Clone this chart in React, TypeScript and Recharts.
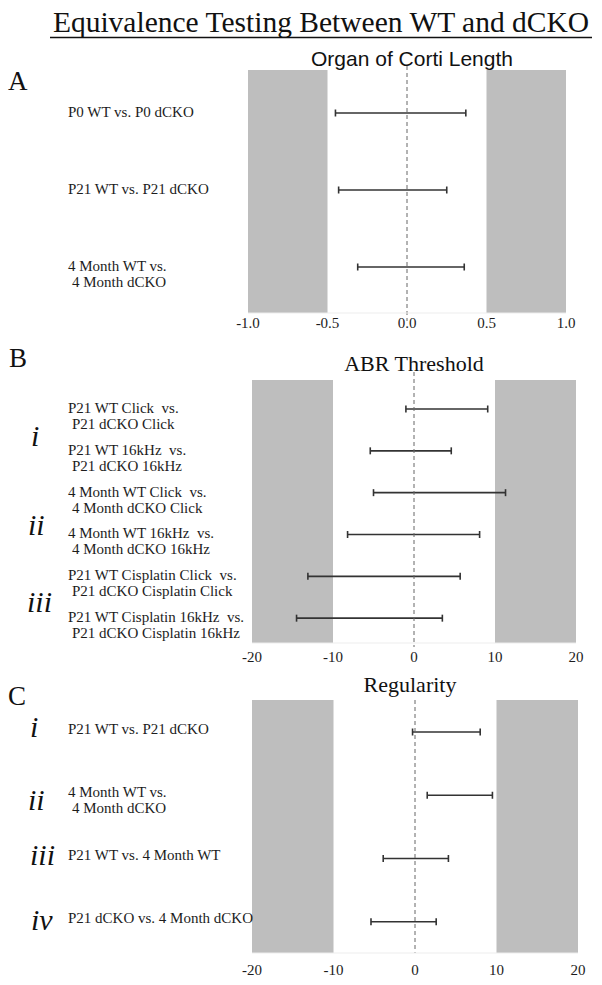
import React from 'react'
import { BarChart, Bar, XAxis, YAxis, ReferenceArea, ReferenceLine } from 'recharts'

const serif = '"Liberation Serif", "Times New Roman", serif'
const sans = '"Liberation Sans", Arial, sans-serif'

// A - organ of Corti length
const cortiLabels = ['P0 WT vs. P0 dCKO', 'P21 WT vs. P21 dCKO', '4 Month WT vs.\n4 Month dCKO']
const cortiLow = [-0.45, -0.43, -0.31]
const cortiHigh = [0.37, 0.25, 0.36]
const cortiTicks = [-1, -0.5, 0, 0.5, 1]

// B - ABR threshold
const abrLabels = [
  'P21 WT Click  vs.\nP21 dCKO Click',
  'P21 WT 16kHz  vs.\nP21 dCKO 16kHz',
  '4 Month WT Click  vs.\n4 Month dCKO Click',
  '4 Month WT 16kHz  vs.\n4 Month dCKO 16kHz',
  'P21 WT Cisplatin Click  vs.\nP21 dCKO Cisplatin Click',
  'P21 WT Cisplatin 16kHz  vs.\nP21 dCKO Cisplatin 16kHz',
]
const abrLow = [-1, -5.4, -5, -8.2, -13.1, -14.5]
const abrHigh = [9.1, 4.6, 11.3, 8.1, 5.7, 3.5]

// C - regularity
const regLabels = ['P21 WT vs. P21 dCKO', '4 Month WT vs.\n4 Month dCKO', 'P21 WT vs. 4 Month WT', 'P21 dCKO vs. 4 Month dCKO']
const regLow = [-0.3, 1.5, -3.9, -5.4]
const regHigh = [8.0, 9.5, 4.1, 2.6]

const wideTicks = [-20, -10, 0, 10, 20]

const GRAY = '#bebebe'
const INK = '#1c1c1c'

const Interval = (props: any) => {
  const { x, y, width, height } = props
  const cy = y + height / 2
  const x2 = x + width
  return (
    <g stroke="#333" strokeWidth={1.6}>
      <line x1={x} y1={cy} x2={x2} y2={cy} />
      <line x1={x} y1={cy - 3.5} x2={x} y2={cy + 3.5} />
      <line x1={x2} y1={cy - 3.5} x2={x2} y2={cy + 3.5} />
    </g>
  )
}

const RowLabel = (props: any) => {
  const { y, payload, shift } = props
  const lines = String(payload.value).split('\n')
  return (
    <text x={68} y={y + shift} fontFamily={serif} fontSize={15} fill={INK} style={{ whiteSpace: 'pre' }}>
      {lines.map((l, i) => (
        <tspan key={i} x={i === 0 ? 68 : 72} dy={i === 0 ? 0 : 16}>{l}</tspan>
      ))}
    </text>
  )
}

const AxisTick = (props: any) => {
  const { x, y, payload, gap, digits } = props
  return (
    <text x={x} y={y + gap} textAnchor="middle" fontFamily={serif} fontSize={15} fill={INK}>
      {digits ? Number(payload.value).toFixed(digits) : String(payload.value)}
    </text>
  )
}

type Pad = { top: number; bottom: number }

// the category padding shrinks reference marks, so stretch them back to the full plot
const bandShape = (pad: Pad) => (p: any) => (
  <rect x={p.x} y={p.y - pad.top} width={p.width} height={p.height + pad.top + pad.bottom} fill={GRAY} />
)
const zeroShape = (pad: Pad) => (p: any) => {
  const top = Math.min(p.y1, p.y2) - pad.top
  const bottom = Math.max(p.y1, p.y2) + pad.bottom
  return <line x1={p.x1} y1={top} x2={p.x2} y2={bottom} stroke="#666" strokeDasharray="4 3" />
}

type PanelProps = {
  top: number
  labels: string[]
  low: number[]
  high: number[]
  ticks: number[]
  band: [number, number]
  plotLeft: number
  plotRight: number
  plotHeight: number
  gap: number
  digits: number
  shift: number
  pad: Pad
}

const Panel = ({ top, labels, low, high, ticks, band, plotLeft, plotRight, plotHeight, gap, digits, shift, pad }: PanelProps) => {
  const rows = labels.map((label, i) => ({ label, range: [low[i], high[i]] }))
  const lo = ticks[0]
  const hi = ticks[ticks.length - 1]
  return (
    <div style={{ position: 'absolute', left: 0, top }}>
      <BarChart
        width={602}
        height={10 + plotHeight + 30}
        data={rows}
        layout="vertical"
        margin={{ top: 10, right: 602 - plotRight, bottom: 0, left: 0 }}
      >
        <XAxis
          type="number"
          domain={[lo, hi]}
          ticks={ticks}
          interval={0}
          height={30}
          axisLine={{ stroke: '#ededed' }}
          tickLine={false}
          tickSize={0}
          tickMargin={0}
          tick={<AxisTick gap={gap} digits={digits} />}
        />
        <YAxis
          type="category"
          dataKey="label"
          width={plotLeft}
          interval={0}
          padding={pad}
          axisLine={false}
          tickLine={false}
          tick={<RowLabel shift={shift} />}
        />
        <ReferenceArea x1={lo} x2={band[0]} stroke="none" shape={bandShape(pad)} />
        <ReferenceArea x1={band[1]} x2={hi} stroke="none" shape={bandShape(pad)} />
        <ReferenceLine x={0} shape={zeroShape(pad)} />
        <Bar dataKey="range" barSize={8} shape={<Interval />} isAnimationActive={false} />
      </BarChart>
    </div>
  )
}

const App = () => {
  return (
    <div style={{ position: 'relative', width: 602, height: 985, background: '#fff' }}>
      <style>{'body{margin:0}'}</style>
      <Panel
        top={60}
        labels={cortiLabels}
        low={cortiLow}
        high={cortiHigh}
        ticks={cortiTicks}
        band={[-0.5, 0.5]}
        plotLeft={248}
        plotRight={566}
        plotHeight={243}
        gap={15}
        digits={1}
        shift={4}
        pad={{ top: 4, bottom: 8 }}
      />
      <Panel
        top={370}
        labels={abrLabels}
        low={abrLow}
        high={abrHigh}
        ticks={wideTicks}
        band={[-10, 10]}
        plotLeft={252}
        plotRight={576}
        plotHeight={263}
        gap={19}
        digits={0}
        shift={4}
        pad={{ top: 8, bottom: 4 }}
      />
      <Panel
        top={690}
        labels={regLabels}
        low={regLow}
        high={regHigh}
        ticks={wideTicks}
        band={[-10, 10]}
        plotLeft={252}
        plotRight={578}
        plotHeight={253}
        gap={22}
        digits={0}
        shift={2}
        pad={{ top: 0, bottom: 0 }}
      />
      <svg width={602} height={985} style={{ position: 'absolute', left: 0, top: 0, pointerEvents: 'none' }}>
        <text x={321} y={32} textAnchor="middle" fontFamily={serif} fontSize={29.5} fill="#111">
          Equivalence Testing Between WT and dCKO
        </text>
        <line x1={50} y1={37.5} x2={592} y2={37.5} stroke="#111" strokeWidth={1.4} />
        <text x={412} y={66} textAnchor="middle" fontFamily={sans} fontSize={21} fill="#111">Organ of Corti Length</text>
        <text x={414} y={371} textAnchor="middle" fontFamily={serif} fontSize={22} fill="#111">ABR Threshold</text>
        <text x={410} y={692} textAnchor="middle" fontFamily={serif} fontSize={22} fill="#111">Regularity</text>
        <g fontFamily={serif} fontSize={27} fill="#111">
          <text x={8} y={90}>A</text>
          <text x={9} y={367}>B</text>
          <text x={8} y={705}>C</text>
        </g>
        <g fontFamily={serif} fontSize={30} fontStyle="italic" fill="#111">
          <text x={31} y={446}>i</text>
          <text x={28} y={535}>ii</text>
          <text x={27} y={612}>iii</text>
          <text x={30} y={737}>i</text>
          <text x={28} y={810}>ii</text>
          <text x={30} y={865}>iii</text>
          <text x={31} y={930}>iv</text>
        </g>
      </svg>
    </div>
  )
}

export default App
